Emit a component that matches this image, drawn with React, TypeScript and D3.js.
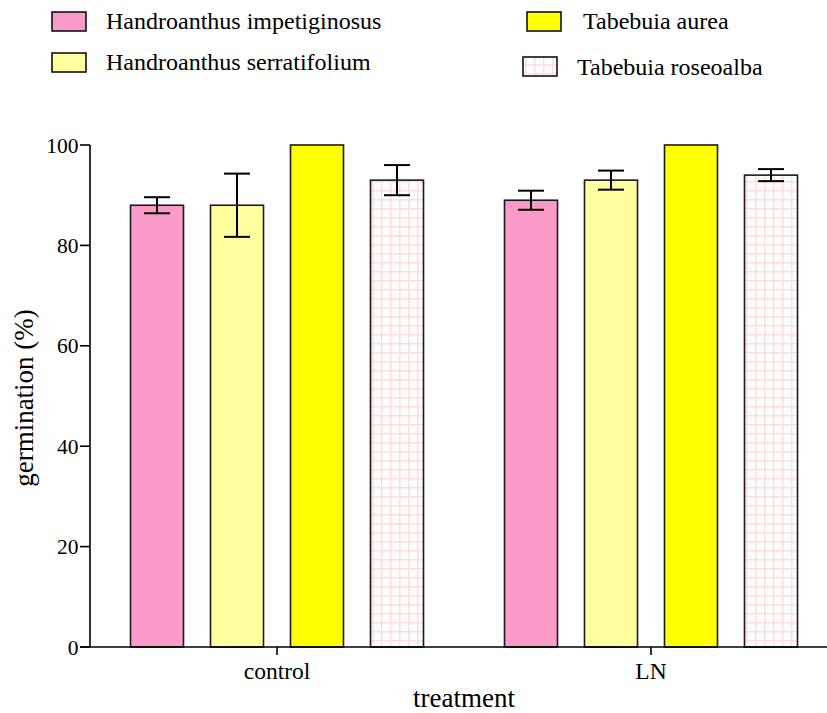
import React from "react";
import * as d3 from "d3";

const treatments = ["control", "LN"];
const species = [
  "Handroanthus impetiginosus",
  "Handroanthus serratifolium",
  "Tabebuia aurea",
  "Tabebuia roseoalba",
];
const fills = ["#f99ac8", "#ffff9f", "#ffff00", "url(#grid)"];
const controlMeans = [88, 88, 100, 93];
const controlErr = [1.6, 6.3, 0, 3];
const lnMeans = [89, 93, 100, 94];
const lnErr = [1.9, 1.9, 0, 1.2];
const yTicks = [0, 20, 40, 60, 80, 100];

const means: Record<string, number[]> = { control: controlMeans, LN: lnMeans };
const errs: Record<string, number[]> = { control: controlErr, LN: lnErr };

const FF = "'Liberation Serif', 'Times New Roman', Times, serif";

export default function App() {
  const W = 827, H = 713;
  const y = d3.scaleLinear().domain([0, 100]).range([647, 145]);
  const x0 = d3.scaleBand().domain(treatments).range([90, 838]).padding(0);
  const x1 = d3
    .scaleBand()
    .domain(species)
    .range([27, 347])
    .paddingInner(0.3375)
    .paddingOuter(0.16875);
  const capW = 26;

  const legend = [
    { i: 0, bx: 52, by: 12, tx: 106, ty: 29 },
    { i: 1, bx: 52, by: 53, tx: 106, ty: 70 },
    { i: 2, bx: 527, by: 12, tx: 583, ty: 29 },
    { i: 3, bx: 523, by: 57, tx: 577, ty: 75 },
  ];

  return (
    <svg width={W} height={H} fontFamily={FF} style={{ display: "block", position: "absolute", left: 0, top: 0, fontFamily: FF }}>
      <defs>
        <pattern id="grid" width="9" height="9" patternUnits="userSpaceOnUse" x="3" y="1">
          <rect width="9" height="9" fill="#ffffff" />
          <line x1="0" y1="0.75" x2="9" y2="0.75" stroke="#ffdcdc" strokeWidth="1.5" />
          <line x1="0.75" y1="0" x2="0.75" y2="9" stroke="#ffdcdc" strokeWidth="1.5" />
        </pattern>
      </defs>
      <rect width={W} height={H} fill="#fff" />
      {legend.map((l) => (
        <g key={l.i}>
          <rect x={l.bx} y={l.by} width={34} height={19} fill={fills[l.i]} stroke="#111" strokeWidth={1.6} />
          <text x={l.tx} y={l.ty} fontSize={24} fill="#000">
            {species[l.i]}
          </text>
        </g>
      ))}
      {treatments.map((t) => (
        <g key={t} transform={`translate(${x0(t)},0)`}>
          {species.map((s, i) => {
            const v = means[t][i];
            const e = errs[t][i];
            const bx = x1(s)!;
            const bw = x1.bandwidth();
            const cx = bx + bw / 2;
            return (
              <g key={s}>
                <rect x={bx} y={y(v)} width={bw} height={y(0) - y(v)} fill={fills[i]} stroke="#1a1a1a" strokeWidth={1.6} />
                {e > 0 && (
                  <g stroke="#000" strokeWidth={2}>
                    <line x1={cx} x2={cx} y1={y(v + e)} y2={y(v - e)} />
                    <line x1={cx - capW / 2} x2={cx + capW / 2} y1={y(v + e)} y2={y(v + e)} />
                    <line x1={cx - capW / 2} x2={cx + capW / 2} y1={y(v - e)} y2={y(v - e)} />
                  </g>
                )}
              </g>
            );
          })}
        </g>
      ))}
      <line x1={90} x2={90} y1={y(100)} y2={y(0)} stroke="#000" strokeWidth={1.6} />
      {yTicks.map((t) => (
        <g key={t}>
          <line x1={80} x2={90} y1={y(t)} y2={y(t)} stroke="#000" strokeWidth={1.6} />
          <text x={78.5} y={y(t)} dy="0.35em" textAnchor="end" fontSize={21.5}>
            {t}
          </text>
        </g>
      ))}
      <line x1={80} x2={827} y1={y(0)} y2={y(0)} stroke="#000" strokeWidth={1.6} />
      {treatments.map((t) => {
        const cx = x0(t)! + x0.bandwidth() / 2;
        return (
          <g key={t}>
            <line x1={cx} x2={cx} y1={y(0)} y2={y(0) + 8} stroke="#000" strokeWidth={1.6} />
            <text x={cx} y={679} textAnchor="middle" fontSize={23.5}>
              {t}
            </text>
          </g>
        );
      })}
      <text x={464} y={707} textAnchor="middle" fontSize={27}>
        treatment
      </text>
      <text transform="translate(33,398) rotate(-90)" textAnchor="middle" fontSize={27}>
        germination (%)
      </text>
    </svg>
  );
}
